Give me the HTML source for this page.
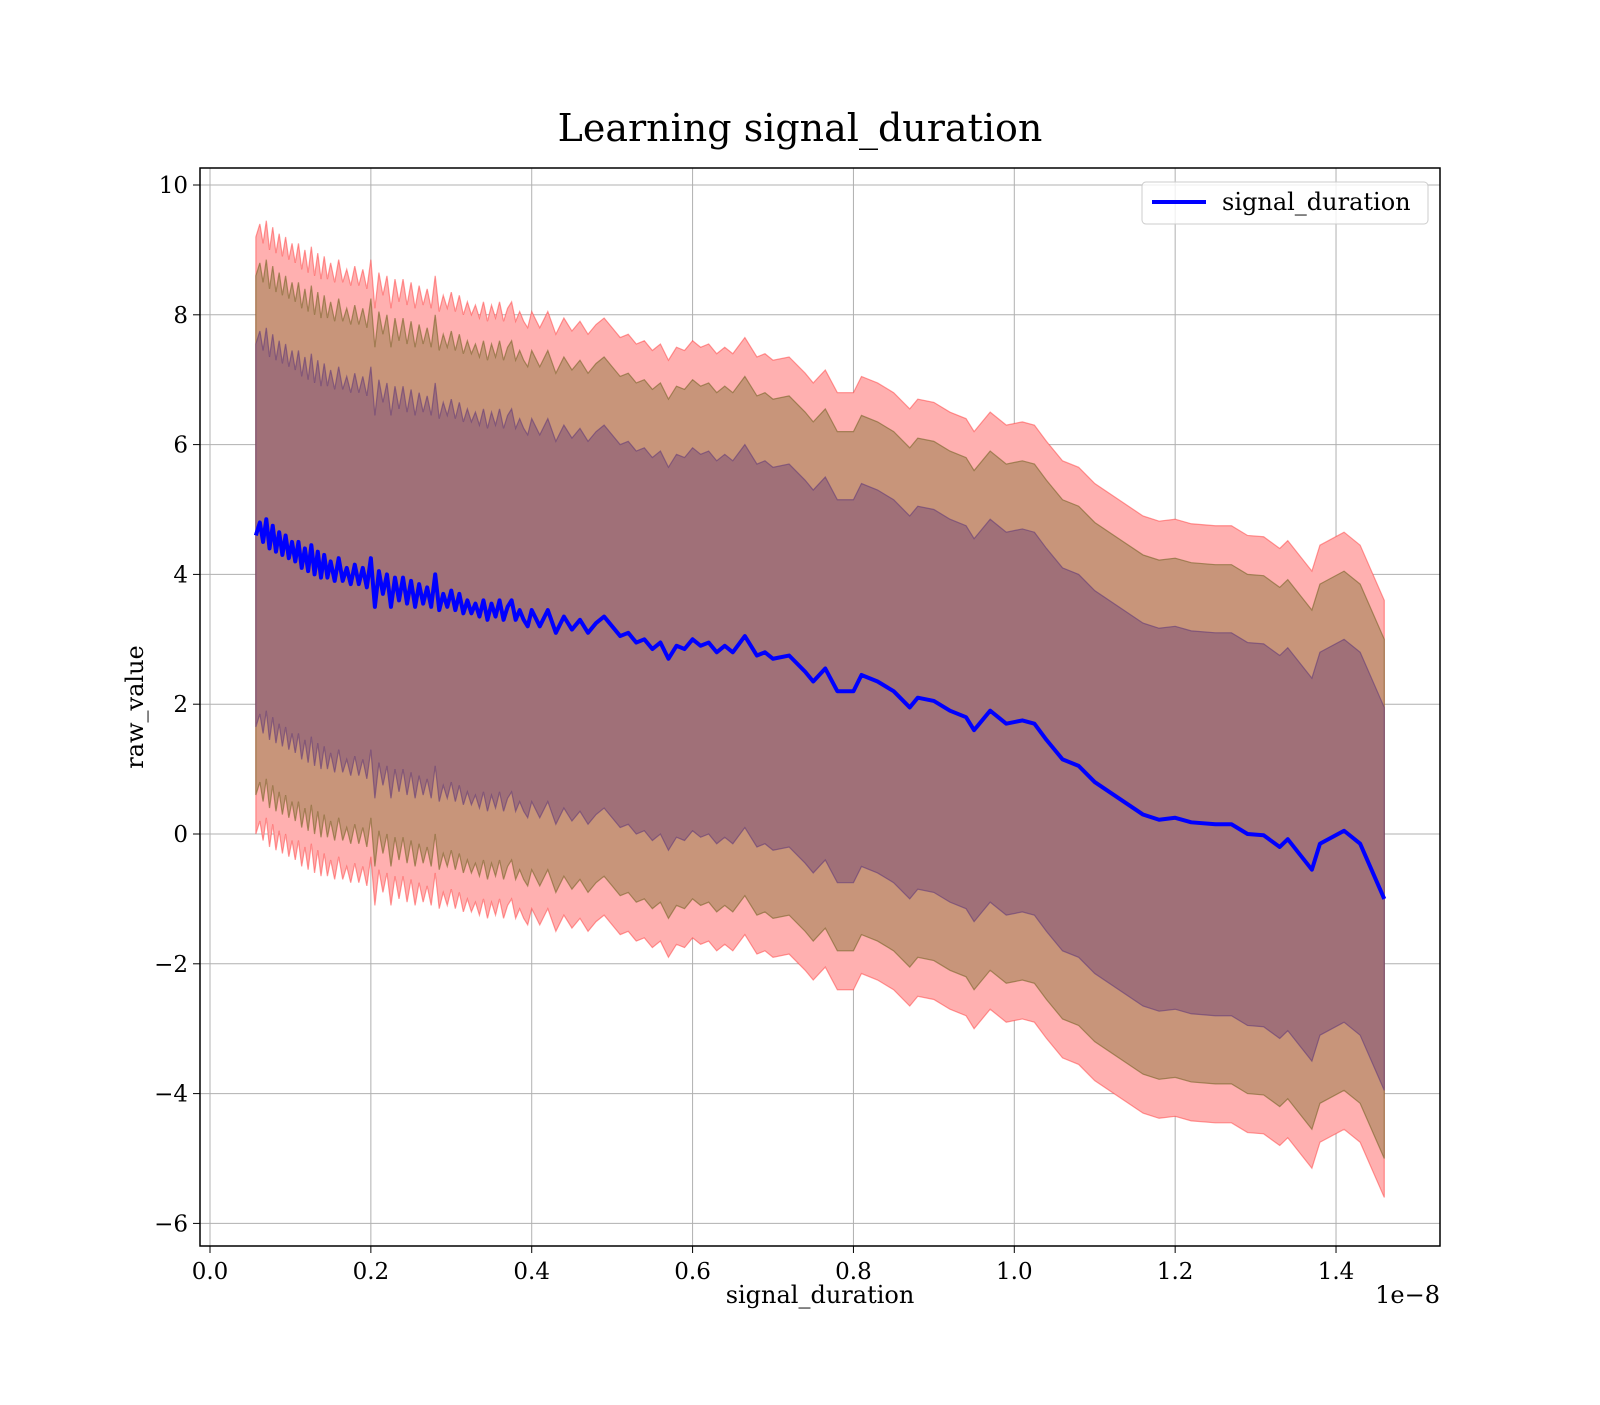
<!DOCTYPE html>
<html><head><meta charset="utf-8"><style>
body{margin:0;background:#fff;}
svg text{font-family:"DejaVu Serif","Liberation Serif",serif;fill:#000;}
</style></head><body>
<svg id="chart" width="1600" height="1400" xmlns="http://www.w3.org/2000/svg">
<rect width="1600" height="1400" fill="#fff"/>
<text x="800" y="141" font-size="38" text-anchor="middle">Learning signal_duration</text>
<g id="grid"></g>
<g id="bands"></g>
<g id="lineg"></g>
<rect x="200" y="168" width="1240" height="1078" fill="none" stroke="#000" stroke-width="1.5"/>
<g id="ticks"></g>
<text x="820" y="1303" font-size="24" text-anchor="middle">signal_duration</text>
<text x="1440" y="1303" font-size="24" text-anchor="end">1e−8</text>
<text x="0" y="0" font-size="24" text-anchor="middle" transform="translate(143,707) rotate(-90)">raw_value</text>
<g>
<rect x="1142" y="182" width="286" height="42" rx="4" fill="#fff" fill-opacity="0.8" stroke="#ccc"/>
<line x1="1152" y1="202" x2="1206" y2="202" stroke="#0000ff" stroke-width="4"/>
<text x="1222" y="210" font-size="24">signal_duration</text>
</g>
</svg>
<script>
const xs=[0.057,0.062,0.066,0.070,0.074,0.078,0.082,0.086,0.090,0.094,0.098,0.102,0.106,0.110,0.114,0.118,0.122,0.126,0.130,0.134,0.138,0.142,0.146,0.150,0.155,0.160,0.165,0.170,0.175,0.180,0.185,0.190,0.195,0.200,0.205,0.210,0.215,0.220,0.225,0.230,0.235,0.240,0.245,0.250,0.255,0.260,0.265,0.270,0.275,0.280,0.285,0.290,0.295,0.300,0.305,0.310,0.315,0.320,0.325,0.330,0.335,0.340,0.345,0.350,0.355,0.360,0.365,0.370,0.375,0.380,0.385,0.390,0.395,0.400,0.41,0.42,0.43,0.44,0.45,0.46,0.47,0.48,0.49,0.50,0.51,0.52,0.53,0.54,0.55,0.56,0.57,0.58,0.59,0.60,0.61,0.62,0.63,0.64,0.65,0.665,0.68,0.69,0.70,0.72,0.74,0.75,0.765,0.78,0.80,0.81,0.83,0.85,0.87,0.88,0.90,0.92,0.94,0.95,0.97,0.99,1.01,1.025,1.04,1.06,1.08,1.10,1.13,1.16,1.18,1.20,1.22,1.25,1.27,1.29,1.31,1.33,1.34,1.37,1.38,1.41,1.43,1.46];
const means=[4.6,4.8,4.5,4.85,4.4,4.75,4.35,4.65,4.3,4.6,4.25,4.5,4.2,4.5,4.1,4.4,4.05,4.45,4.0,4.35,3.95,4.3,3.95,4.2,3.9,4.25,3.9,4.1,3.85,4.15,3.85,4.1,3.8,4.25,3.5,4.05,3.7,4.0,3.5,3.95,3.6,3.95,3.55,3.9,3.5,3.85,3.55,3.8,3.5,4.0,3.45,3.7,3.5,3.75,3.45,3.7,3.4,3.6,3.4,3.55,3.35,3.6,3.3,3.55,3.35,3.6,3.3,3.5,3.6,3.3,3.45,3.3,3.2,3.45,3.2,3.45,3.1,3.35,3.15,3.3,3.1,3.25,3.35,3.2,3.05,3.1,2.95,3.0,2.85,2.95,2.7,2.9,2.85,3.0,2.9,2.95,2.8,2.9,2.8,3.05,2.75,2.8,2.7,2.75,2.5,2.35,2.55,2.2,2.2,2.45,2.35,2.2,1.95,2.1,2.05,1.9,1.8,1.6,1.9,1.7,1.75,1.7,1.45,1.15,1.05,0.8,0.55,0.3,0.22,0.25,0.18,0.15,0.15,0.0,-0.02,-0.2,-0.08,-0.55,-0.15,0.05,-0.15,-1.0];
const bandWidths=[4.6,4.0,2.95];
const xTicks=[0.0,0.2,0.4,0.6,0.8,1.0,1.2,1.4];
const yTicks=[-6,-4,-2,0,2,4,6,8,10];
const NS="http://www.w3.org/2000/svg";
const X=v=>210+v*804.3, Y=v=>834-v*64.9;
function mk(t,a,p){const e=document.createElementNS(NS,t);for(const k in a)e.setAttribute(k,a[k]);p.appendChild(e);return e;}
const grid=document.getElementById('grid'),ticks=document.getElementById('ticks');
xTicks.forEach(t=>{
 const g=mk('line',{x1:X(t),x2:X(t),y1:168,y2:1246,stroke:'#b0b0b0','stroke-width':1},grid);
 
 
 const tk=mk('line',{x1:X(t),x2:X(t),y1:1246,y2:1253,stroke:'#000','stroke-width':1},ticks);
 
 
 const tx=mk('text',{x:X(t),y:1279,'font-size':23,'text-anchor':'middle'},ticks);
 
 
 tx.textContent=t.toFixed(1);
});
yTicks.forEach(t=>{
 const g=mk('line',{x1:200,x2:1440,y1:Y(t),y2:Y(t),stroke:'#b0b0b0','stroke-width':1},grid);
 
 
 const tk=mk('line',{x1:193,x2:200,y1:Y(t),y2:Y(t),stroke:'#000','stroke-width':1},ticks);
 
 
 const tx=mk('text',{x:188,y:Y(t)+8,'font-size':23,'text-anchor':'end'},ticks);
 
 
 tx.textContent=(t<0?'−':'')+Math.abs(t);
});
const fills=['#ffb0b0','#c8957a','#a07078'];
const strokes=['rgba(255,60,60,0.5)','rgba(120,100,40,0.6)','rgba(100,60,120,0.6)'];
const names=['band-outer','band-middle','band-inner'];
const bands=document.getElementById('bands');
bandWidths.forEach((w,i)=>{
 let pts=xs.map((x,j)=>X(x)+','+Y(means[j]+w));
 for(let j=xs.length-1;j>=0;j--)pts.push(X(xs[j])+','+Y(means[j]-w));
 const p=mk('polygon',{points:pts.join(' '),fill:fills[i],stroke:strokes[i],'stroke-width':1.2},bands);
 
 
});
const ln=mk('polyline',{points:xs.map((x,j)=>X(x)+','+Y(means[j])).join(' '),fill:'none',stroke:'#0000ff','stroke-width':4,'stroke-linejoin':'round'},document.getElementById('lineg'));


</script>
</body></html>
